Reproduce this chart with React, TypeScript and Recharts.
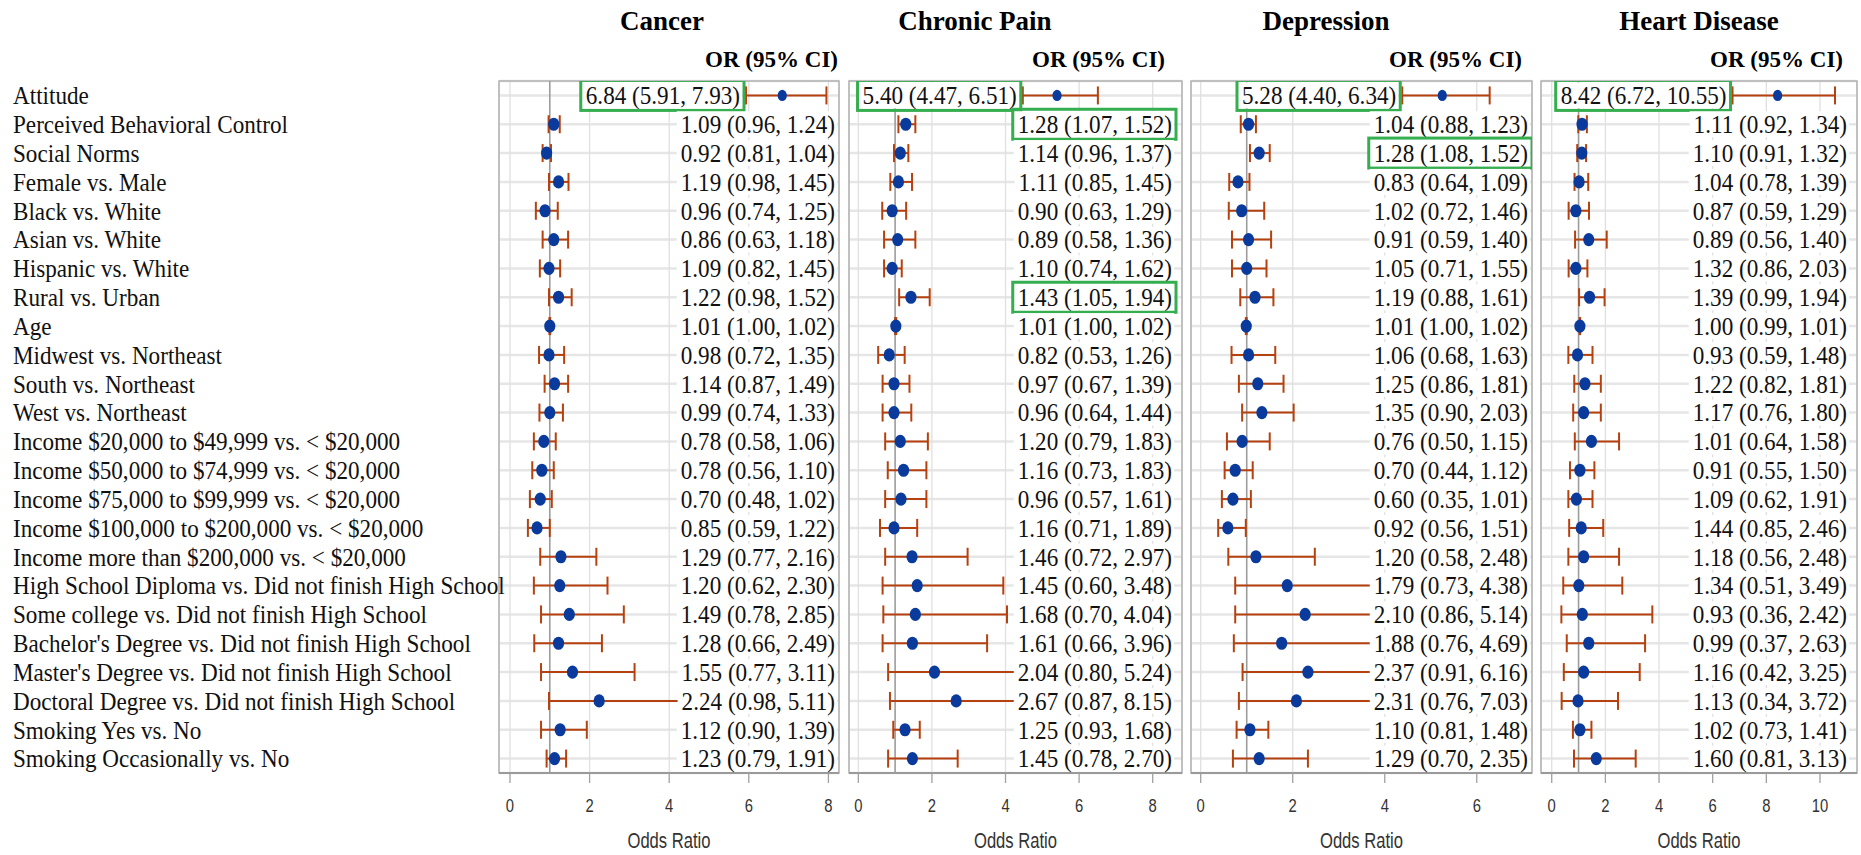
import { ScatterChart, Scatter, XAxis, YAxis, CartesianGrid, ErrorBar, ReferenceLine, ReferenceArea } from 'recharts';

const rowLabels = [
  'Attitude',
  'Perceived Behavioral Control',
  'Social Norms',
  'Female vs. Male',
  'Black vs. White',
  'Asian vs. White',
  'Hispanic vs. White',
  'Rural vs. Urban',
  'Age',
  'Midwest vs. Northeast',
  'South vs. Northeast',
  'West vs. Northeast',
  'Income $20,000 to $49,999 vs. < $20,000',
  'Income $50,000 to $74,999 vs. < $20,000',
  'Income $75,000 to $99,999 vs. < $20,000',
  'Income $100,000 to $200,000 vs. < $20,000',
  'Income more than $200,000 vs. < $20,000',
  'High School Diploma vs. Did not finish High School',
  'Some college vs. Did not finish High School',
  "Bachelor's Degree vs. Did not finish High School",
  "Master's Degree vs. Did not finish High School",
  'Doctoral Degree vs. Did not finish High School',
  'Smoking Yes vs. No',
  'Smoking Occasionally vs. No',
];
const rowIdx = rowLabels.map((_, i) => i);

// Cancer
const cancerText = [
  '6.84 (5.91, 7.93)', '1.09 (0.96, 1.24)', '0.92 (0.81, 1.04)', '1.19 (0.98, 1.45)',
  '0.96 (0.74, 1.25)', '0.86 (0.63, 1.18)', '1.09 (0.82, 1.45)', '1.22 (0.98, 1.52)',
  '1.01 (1.00, 1.02)', '0.98 (0.72, 1.35)', '1.14 (0.87, 1.49)', '0.99 (0.74, 1.33)',
  '0.78 (0.58, 1.06)', '0.78 (0.56, 1.10)', '0.70 (0.48, 1.02)', '0.85 (0.59, 1.22)',
  '1.29 (0.77, 2.16)', '1.20 (0.62, 2.30)', '1.49 (0.78, 2.85)', '1.28 (0.66, 2.49)',
  '1.55 (0.77, 3.11)', '2.24 (0.98, 5.11)', '1.12 (0.90, 1.39)', '1.23 (0.79, 1.91)',
];
const cancerOR = [6.84, 1.1, 0.92, 1.22, 0.88, 1.1, 0.98, 1.22, 1.0, 0.98, 1.12, 1.0, 0.85, 0.8, 0.76, 0.68, 1.28, 1.25, 1.49, 1.22, 1.57, 2.24, 1.26, 1.12];
const cancerLo = [5.93, 0.97, 0.82, 0.98, 0.65, 0.82, 0.75, 0.98, 0.99, 0.73, 0.87, 0.74, 0.6, 0.56, 0.5, 0.45, 0.76, 0.6, 0.78, 0.61, 0.78, 0.98, 0.78, 0.92];
const cancerHi = [7.95, 1.25, 1.03, 1.47, 1.2, 1.46, 1.26, 1.55, 1.01, 1.36, 1.46, 1.33, 1.15, 1.1, 1.05, 1.0, 2.17, 2.45, 2.86, 2.31, 3.13, 5.11, 1.93, 1.41];
const cancerBoxed = [0];

// Chronic Pain
const painText = [
  '5.40 (4.47, 6.51)', '1.28 (1.07, 1.52)', '1.14 (0.96, 1.37)', '1.11 (0.85, 1.45)',
  '0.90 (0.63, 1.29)', '0.89 (0.58, 1.36)', '1.10 (0.74, 1.62)', '1.43 (1.05, 1.94)',
  '1.01 (1.00, 1.02)', '0.82 (0.53, 1.26)', '0.97 (0.67, 1.39)', '0.96 (0.64, 1.44)',
  '1.20 (0.79, 1.83)', '1.16 (0.73, 1.83)', '0.96 (0.57, 1.61)', '1.16 (0.71, 1.89)',
  '1.46 (0.72, 2.97)', '1.45 (0.60, 3.48)', '1.68 (0.70, 4.04)', '1.61 (0.66, 3.96)',
  '2.04 (0.80, 5.24)', '2.67 (0.87, 8.15)', '1.25 (0.93, 1.68)', '1.45 (0.78, 2.70)',
];
const painOR = [5.4, 1.29, 1.14, 1.09, 0.92, 1.07, 0.92, 1.43, 1.02, 0.84, 0.97, 0.97, 1.14, 1.23, 1.16, 0.97, 1.46, 1.6, 1.55, 1.47, 2.07, 2.66, 1.27, 1.47];
const painLo = [4.47, 1.09, 0.97, 0.87, 0.65, 0.7, 0.7, 1.11, 1.0, 0.54, 0.66, 0.66, 0.73, 0.8, 0.73, 0.59, 0.73, 0.66, 0.68, 0.66, 0.81, 0.86, 0.95, 0.81];
const painHi = [6.51, 1.55, 1.36, 1.46, 1.3, 1.55, 1.18, 1.94, 1.03, 1.26, 1.39, 1.44, 1.89, 1.85, 1.85, 1.6, 2.97, 3.94, 4.04, 3.5, 5.24, 8.15, 1.67, 2.7];
const painBoxed = [0, 1, 7];

// Depression
const depText = [
  '5.28 (4.40, 6.34)', '1.04 (0.88, 1.23)', '1.28 (1.08, 1.52)', '0.83 (0.64, 1.09)',
  '1.02 (0.72, 1.46)', '0.91 (0.59, 1.40)', '1.05 (0.71, 1.55)', '1.19 (0.88, 1.61)',
  '1.01 (1.00, 1.02)', '1.06 (0.68, 1.63)', '1.25 (0.86, 1.81)', '1.35 (0.90, 2.03)',
  '0.76 (0.50, 1.15)', '0.70 (0.44, 1.12)', '0.60 (0.35, 1.01)', '0.92 (0.56, 1.51)',
  '1.20 (0.58, 2.48)', '1.79 (0.73, 4.38)', '2.10 (0.86, 5.14)', '1.88 (0.76, 4.69)',
  '2.37 (0.91, 6.16)', '2.31 (0.76, 7.03)', '1.10 (0.81, 1.48)', '1.29 (0.70, 2.35)',
];
const depOR = [5.25, 1.04, 1.27, 0.81, 0.89, 1.04, 1.0, 1.18, 0.99, 1.04, 1.24, 1.33, 0.9, 0.75, 0.7, 0.59, 1.2, 1.88, 2.27, 1.76, 2.33, 2.08, 1.07, 1.27];
const depLo = [4.38, 0.87, 1.07, 0.62, 0.61, 0.68, 0.68, 0.86, 0.98, 0.67, 0.83, 0.9, 0.57, 0.52, 0.46, 0.38, 0.6, 0.75, 0.75, 0.72, 0.91, 0.83, 0.78, 0.7];
const depHi = [6.28, 1.2, 1.5, 1.06, 1.38, 1.53, 1.43, 1.58, 1.0, 1.62, 1.8, 2.02, 1.5, 1.13, 1.09, 0.98, 2.48, 4.38, 5.14, 4.69, 6.16, 7.03, 1.47, 2.33];
const depBoxed = [0, 2];

// Heart Disease
const heartText = [
  '8.42 (6.72, 10.55)', '1.11 (0.92, 1.34)', '1.10 (0.91, 1.32)', '1.04 (0.78, 1.39)',
  '0.87 (0.59, 1.29)', '0.89 (0.56, 1.40)', '1.32 (0.86, 2.03)', '1.39 (0.99, 1.94)',
  '1.00 (0.99, 1.01)', '0.93 (0.59, 1.48)', '1.22 (0.82, 1.81)', '1.17 (0.76, 1.80)',
  '1.01 (0.64, 1.58)', '0.91 (0.55, 1.50)', '1.09 (0.62, 1.91)', '1.44 (0.85, 2.46)',
  '1.18 (0.56, 2.48)', '1.34 (0.51, 3.49)', '0.93 (0.36, 2.42)', '0.99 (0.37, 2.63)',
  '1.16 (0.42, 3.25)', '1.13 (0.34, 3.72)', '1.02 (0.73, 1.41)', '1.60 (0.81, 3.13)',
];
const heartOR = [8.42, 1.13, 1.12, 1.02, 0.9, 1.38, 0.9, 1.41, 1.05, 0.96, 1.24, 1.19, 1.48, 1.05, 0.92, 1.1, 1.19, 1.01, 1.14, 1.38, 1.19, 0.98, 1.05, 1.66];
const heartLo = [6.74, 0.99, 0.95, 0.85, 0.63, 0.87, 0.63, 1.02, 1.04, 0.62, 0.84, 0.8, 0.86, 0.68, 0.62, 0.65, 0.62, 0.43, 0.36, 0.56, 0.45, 0.37, 0.79, 0.83];
const heartHi = [10.56, 1.31, 1.28, 1.36, 1.39, 2.05, 1.33, 1.97, 1.06, 1.52, 1.83, 1.83, 2.51, 1.59, 1.52, 1.92, 2.51, 2.63, 3.75, 3.48, 3.28, 2.47, 1.48, 3.13];
const heartBoxed = [0];

const SERIF = "'Liberation Serif', 'Times New Roman', serif";
const SANS = "'Liberation Sans', Arial, sans-serif";
const FS = 26;
const SQ = 0.89;
const H = 855;
const TOP = 81;
const BOTTOM = 773;
const GREEN = '#35ae4f';
const WHISKER = '#b5410e';
const DOT = '#0a3b9c';

const panels = [
  { title: 'Cancer', text: cancerText, or: cancerOR, lo: cancerLo, hi: cancerHi, boxed: cancerBoxed, domain: [-0.276, 8.266], ticks: [0, 2, 4, 6, 8], left: 499, right: 839, gap: 4, orRight: 838, titleX: 662 },
  { title: 'Chronic Pain', text: painText, or: painOR, lo: painLo, hi: painHi, boxed: painBoxed, domain: [-0.253, 8.796], ticks: [0, 2, 4, 6, 8], left: 849, right: 1182, gap: 10, orRight: 1165, titleX: 975 },
  { title: 'Depression', text: depText, or: depOR, lo: depLo, hi: depHi, boxed: depBoxed, domain: [-0.211, 7.2], ticks: [0, 2, 4, 6], left: 1191, right: 1532, gap: 4, orRight: 1522, titleX: 1326 },
  { title: 'Heart Disease', text: heartText, or: heartOR, lo: heartLo, hi: heartHi, boxed: heartBoxed, domain: [-0.4, 11.38], ticks: [0, 2, 4, 6, 8, 10], left: 1541, right: 1857, gap: 10, orRight: 1843, titleX: 1699 },
];

let ctx: CanvasRenderingContext2D | null = null;
const textW = (s: string) => {
  if (!ctx) ctx = document.createElement('canvas').getContext('2d');
  if (!ctx) return s.length * 9;
  ctx.font = `${FS}px 'Liberation Serif'`;
  return ctx.measureText(s).width * SQ;
};

const XTick = (props: any) => {
  const { x, y, payload } = props;
  return (
    <g transform={`translate(${x},${y})`}>
      <text transform="scale(0.78,1)" textAnchor="middle" y={29} fontSize={19} fontFamily={SANS} fill="#333">
        {payload.value}
      </text>
    </g>
  );
};

const RowLabel = (props: any) => {
  const { y, payload } = props;
  return (
    <text transform={`translate(13,${y}) scale(${SQ},1)`} dy="0.34em" fontSize={FS} fontFamily={SERIF} fill="#111">
      {rowLabels[payload.value]}
    </text>
  );
};

const Dot = (props: any) => {
  const { cx, cy, payload } = props;
  const small = payload.y === 0;
  return <ellipse cx={cx} cy={cy} rx={small ? 4.6 : 5.6} ry={small ? 5.6 : 6.6} fill={DOT} />;
};

const ValueLabel = (props: any) => {
  const { cx, cy, payload, gap } = props;
  const w = textW(payload.t);
  const right = cx - (payload.first ? 6 : gap);
  return (
    <g>
      <rect x={right - w - 4} y={cy - 13} width={w + 6} height={26} fill="#fff" />
      <text transform={`translate(${right},${cy}) scale(${SQ},1)`} textAnchor="end" dy="0.34em" fontSize={FS} fontFamily={SERIF} fill="#111">
        {payload.t}
      </text>
      {payload.boxed && (
        <rect x={right - w - 5} y={cy - 15} width={w + 9} height={30} fill="none" stroke={GREEN} strokeWidth={3} />
      )}
    </g>
  );
};

const Panel = ({ p, first }: { p: any; first: boolean }) => {
  const ml = first ? 6 : 5;
  const mr = p.right > 1850 ? 4 : 5;
  const chartLeft = first ? 0 : p.left - ml;
  const width = p.right + mr - chartLeft;
  const points = p.or.map((v: number, i: number) => ({ x: v, y: i, err: [v - p.lo[i], p.hi[i] - v] }));
  const labels = p.text.map((t: string, i: number) => ({
    x: i === 0 ? p.lo[0] : p.domain[1],
    y: i,
    t,
    first: i === 0,
    boxed: p.boxed.includes(i),
  }));
  return (
    <div style={{ position: 'absolute', left: chartLeft, top: 0 }}>
      <ScatterChart width={width} height={H} margin={{ top: TOP, right: mr, bottom: 0, left: ml }}>
        <CartesianGrid
          horizontal={(g: any) => <line key={`h${g.index}`} x1={g.x1} y1={g.y1} x2={g.x2} y2={g.y2} stroke="#e6e6e6" strokeWidth={2.5} />}
          vertical={(g: any) => <line key={`v${g.index}`} x1={g.x1} y1={g.y1} x2={g.x2} y2={g.y2} stroke="#e0e0e0" strokeWidth={1.3} />}
        />
        <ReferenceLine x={1} stroke="#9c9c9c" strokeWidth={1.6} />
        <XAxis
          type="number"
          dataKey="x"
          domain={p.domain}
          allowDataOverflow
          ticks={p.ticks}
          interval={0}
          height={H - BOTTOM}
          tickSize={10}
          tickMargin={0}
          axisLine={{ stroke: '#9a9a9a', strokeWidth: 2 }}
          tickLine={{ stroke: '#a0a0a0', strokeWidth: 1.3 }}
          tick={(t: any) => <XTick {...t} />}
        />
        <YAxis
          type="number"
          dataKey="y"
          domain={[-0.5, 23.5]}
          allowDataOverflow
          reversed
          ticks={rowIdx}
          interval={0}
          width={first ? p.left - ml : 0}
          hide={!first}
          axisLine={false}
          tickLine={false}
          tick={(t: any) => <RowLabel {...t} />}
        />
        <Scatter data={points} isAnimationActive={false} shape={(s: any) => <Dot {...s} />}>
          <ErrorBar dataKey="err" direction="x" width={9} stroke={WHISKER} strokeWidth={2} isAnimationActive={false} />
        </Scatter>
        <Scatter data={labels} isAnimationActive={false} shape={(s: any) => <ValueLabel {...s} gap={p.gap} />} />
        <ReferenceArea
          x1={p.domain[0]}
          x2={p.domain[1]}
          y1={-0.5}
          y2={23.5}
          fill="none"
          fillOpacity={0}
          stroke="#b3b3b3"
          strokeWidth={1.5}
          ifOverflow="visible"
        />
      </ScatterChart>
    </div>
  );
};

export default function App() {
  return (
    <div style={{ position: 'absolute', left: 0, top: 0, width: 1861, height: H, overflow: 'hidden', background: '#fff' }}>
      {panels.map((p, i) => (
        <Panel key={p.title} p={p} first={i === 0} />
      ))}
      <svg width={1861} height={H} style={{ position: 'absolute', left: 0, top: 0, pointerEvents: 'none' }}>
        {panels.map((p) => (
          <g key={p.title}>
            <text x={p.titleX} y={30} textAnchor="middle" fontSize={27} fontWeight="bold" fontFamily={SERIF} fill="#000">
              {p.title}
            </text>
            <text x={p.orRight} y={67} textAnchor="end" fontSize={23} fontWeight="bold" fontFamily={SERIF} fill="#000">
              OR (95% CI)
            </text>
            <text transform={`translate(${(p.left + p.right) / 2},848) scale(0.755,1)`} textAnchor="middle" fontSize={22} fontFamily={SANS} fill="#333">
              Odds Ratio
            </text>
          </g>
        ))}
      </svg>
    </div>
  );
}
